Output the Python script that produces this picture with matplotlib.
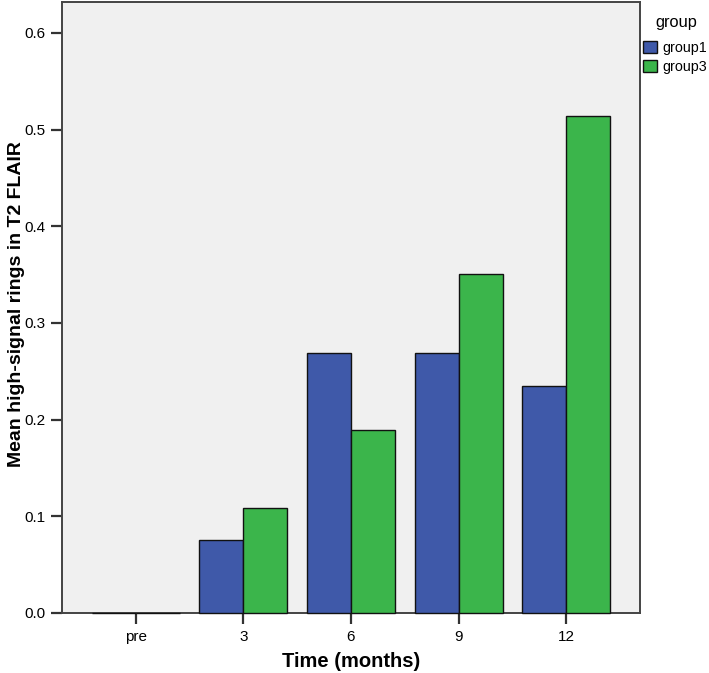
import numpy as np
import matplotlib.pyplot as plt

plt.rcParams['font.family'] = ['Liberation Sans', 'DejaVu Sans']

# Dados
tempos = ['pre', '3', '6', '9', '12']
grupo1 = [0.0, 0.075, 0.269, 0.269, 0.235]
grupo3 = [0.0, 0.109, 0.189, 0.351, 0.514]
nomes = ['group1', 'group3']
cores = ['#3f59a9', '#3bb54b']

fig = plt.figure(figsize=(7.09, 6.73), dpi=100)
ax = fig.add_axes([0.0874, 0.0892, 0.8153, 0.9078])
ax.set_facecolor('#f0f0f0')

x = np.arange(len(tempos))
largura = 0.41
ax.bar(x - largura / 2, grupo1, largura, color=cores[0], edgecolor='#111111',
       linewidth=1.0, label=nomes[0], zorder=3, clip_on=False)
ax.bar(x + largura / 2, grupo3, largura, color=cores[1], edgecolor='#111111',
       linewidth=1.0, label=nomes[1], zorder=3, clip_on=False)

ax.set_xlim(-0.685, 4.685)
ax.set_ylim(0, 0.632)
ax.set_xticks(x)
ax.set_xticklabels(tempos)
ax.set_yticks([0.0, 0.1, 0.2, 0.3, 0.4, 0.5, 0.6])
ax.set_yticklabels(['0.0', '0.1', '0.2', '0.3', '0.4', '0.5', '0.6'])
ax.tick_params(axis='both', direction='out', length=8, width=1.6,
               color='#333333', labelsize=11, pad=4)

for lado in ['left', 'bottom', 'top', 'right']:
    ax.spines[lado].set_color('#444444')
    ax.spines[lado].set_linewidth(1.4)

ax.set_xlabel('Time (months)', fontsize=14.5, fontweight='bold')
ax.xaxis.set_label_coords(0.5, -0.064)
ax.set_ylabel('Mean high-signal rings in T2 FLAIR', fontsize=14,
              fontweight='bold')
ax.yaxis.set_label_coords(-0.064, 0.506)

# Legenda fora da área do gráfico, à direita (título escrito à parte)
fig.text(676 / 709, 1 - 23 / 673, 'group', ha='center', va='center',
         fontsize=11.8)
leg = fig.legend(loc='upper left', bbox_to_anchor=(643 / 709, 1 - 41 / 673),
                 frameon=False, borderpad=0, borderaxespad=0,
                 fontsize=10.3, handlelength=1.0, handleheight=0.85,
                 handletextpad=0.35, labelspacing=0.35)

fig.savefig('out.png', dpi=100)
